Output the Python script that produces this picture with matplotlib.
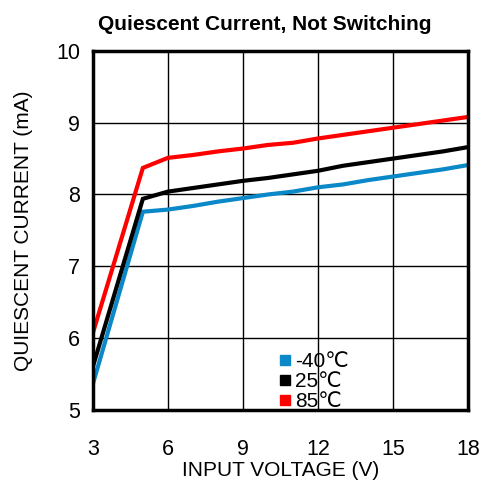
import matplotlib
matplotlib.use("Agg")
import matplotlib.pyplot as plt
from matplotlib.lines import Line2D

plt.rcParams['font.family'] = ['Liberation Sans', 'DejaVu Sans']

vin = [3, 5, 6, 7, 8, 9, 10, 11, 12, 13, 14, 15, 16, 17, 18]
i_m40 = [5.36, 7.76, 7.79, 7.84, 7.90, 7.95, 8.00, 8.04, 8.10, 8.14, 8.20, 8.25, 8.30, 8.35, 8.41]
i_25 = [5.60, 7.94, 8.04, 8.09, 8.14, 8.19, 8.23, 8.28, 8.33, 8.40, 8.45, 8.50, 8.55, 8.60, 8.66]
i_85 = [6.07, 8.37, 8.51, 8.55, 8.60, 8.64, 8.69, 8.72, 8.78, 8.83, 8.88, 8.93, 8.98, 9.03, 9.08]
labels = ['-40\u2103', '25\u2103', '85\u2103']
colors = ['#0a88c8', '#000000', '#ff0000']
xticks = [3, 6, 9, 12, 15, 18]
yticks = [5, 6, 7, 8, 9, 10]

fig = plt.figure(figsize=(4.81, 4.80), dpi=100)
ax = fig.add_axes([0.193, 0.146, 0.78, 0.748])

for y, c in zip([i_m40, i_25, i_85], colors):
    ax.plot(vin, y, color=c, lw=3, solid_joinstyle='miter', zorder=3)

ax.set_xlim(3, 18)
ax.set_ylim(5, 10)
ax.set_xticks(xticks)
ax.set_yticks(yticks)
ax.grid(True, color='black', lw=1.0)
ax.tick_params(length=0, labelsize=15.5)
ax.tick_params(axis='x', pad=21)
ax.tick_params(axis='y', pad=9)
for s in ax.spines.values():
    s.set_linewidth(2.5)
    s.set_zorder(4)

ax.set_xlabel('INPUT VOLTAGE (V)', fontsize=15, labelpad=1)
ax.set_ylabel('QUIESCENT CURRENT (mA)', fontsize=15, labelpad=17)
fig.text(265 / 481, 1 - 30 / 480, 'Quiescent Current, Not Switching', fontsize=15,
         fontweight='bold', ha='center', va='baseline')

handles = [Line2D([], [], marker='s', ls='none', color=c, markersize=7.5) for c in colors]
leg = ax.legend(handles, labels, loc='upper left', bbox_to_anchor=(0.477, 0.185),
                frameon=False, fontsize=15, handlelength=0.5, handletextpad=0.2,
                labelspacing=0.05, borderaxespad=0)

fig.savefig('out.png', dpi=100)
